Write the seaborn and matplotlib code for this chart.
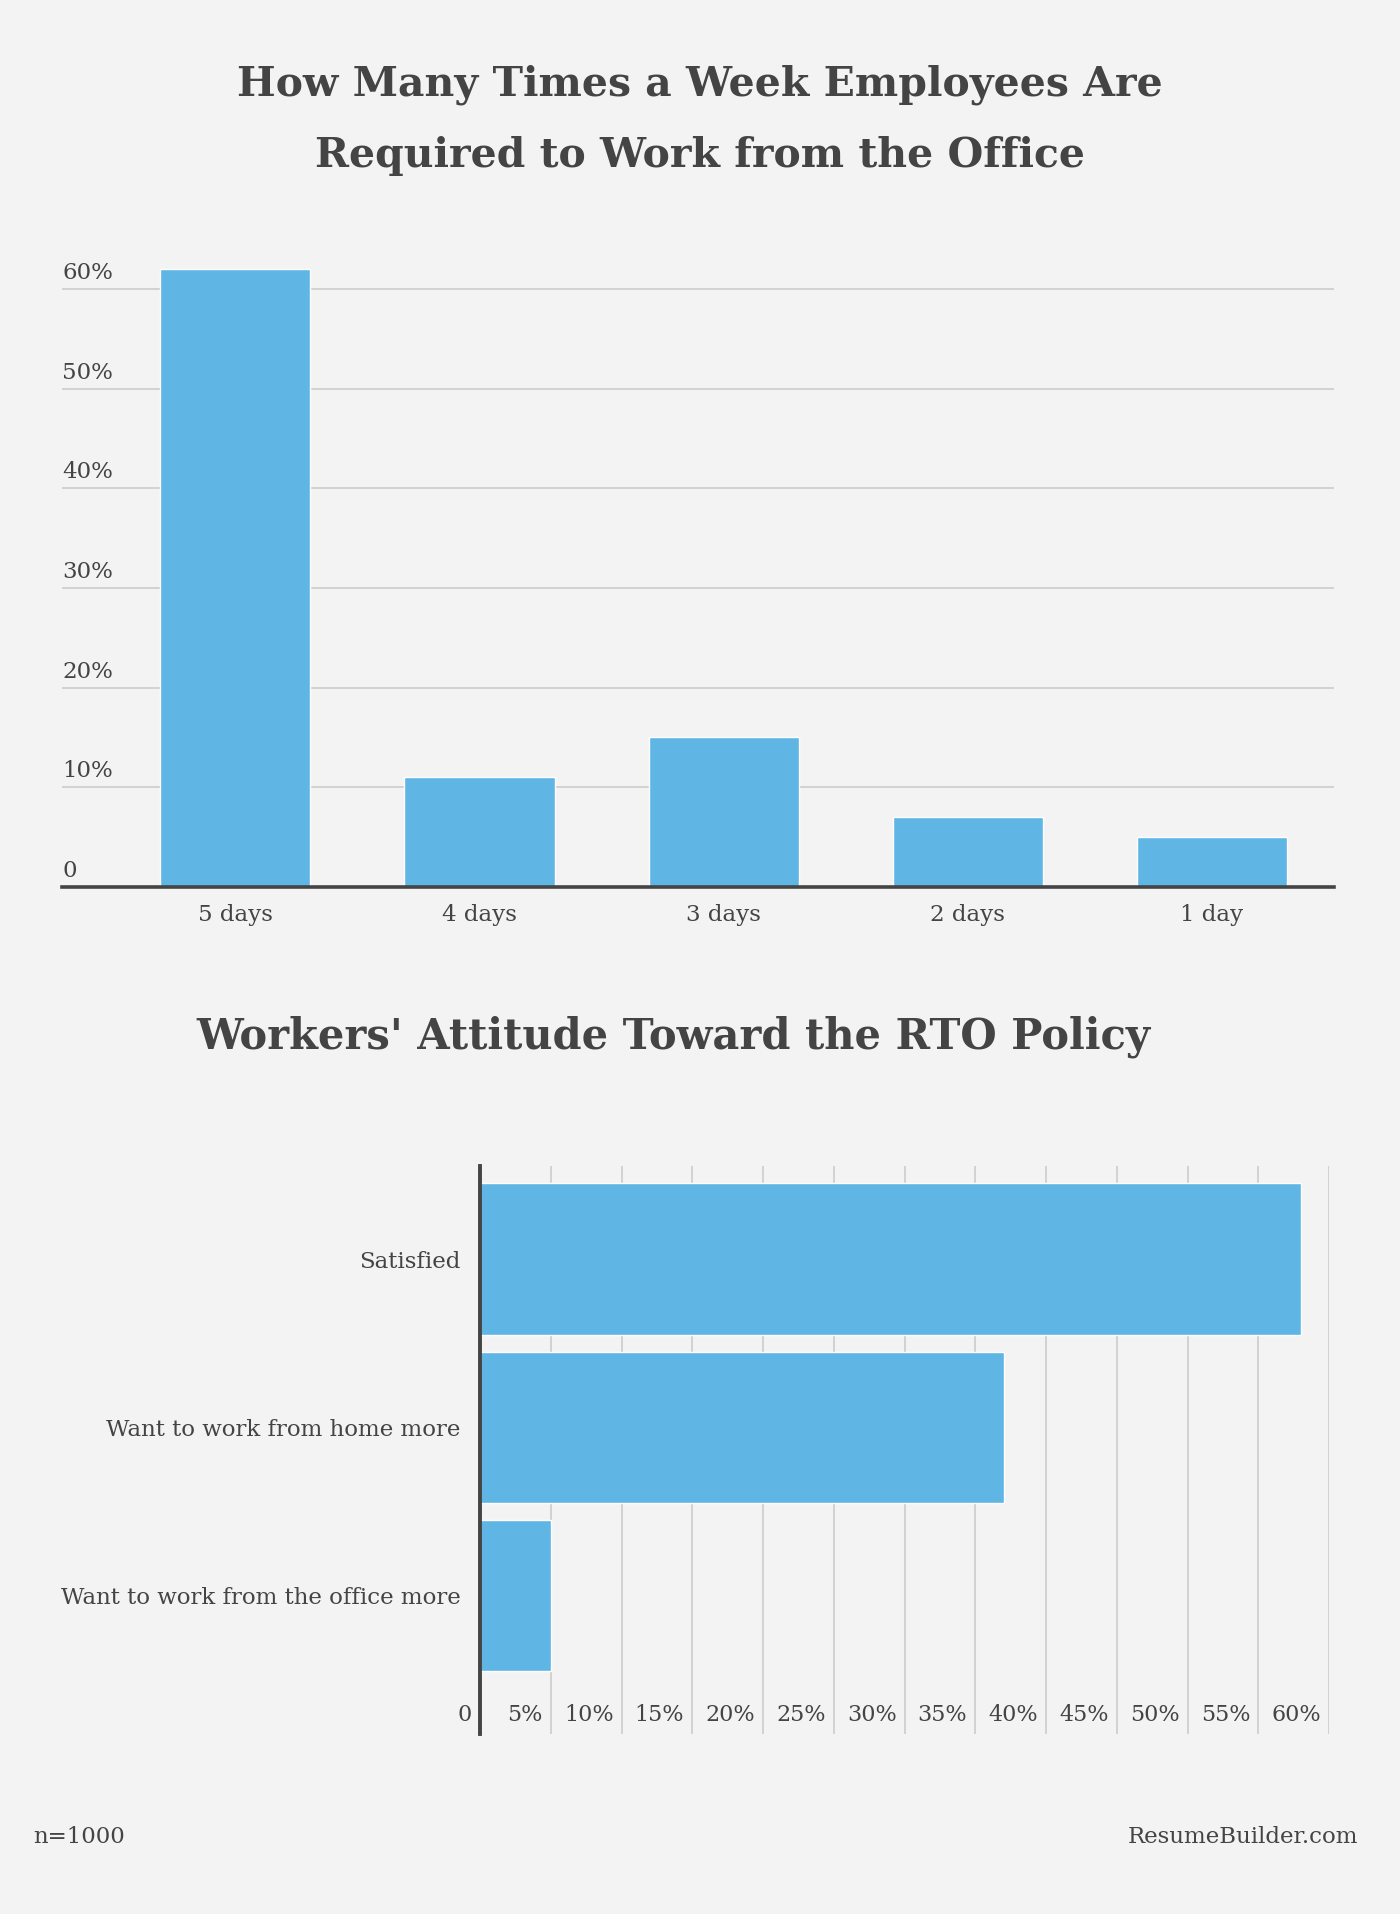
import seaborn as sns
from matplotlib import pyplot as plt
from matplotlib import transforms
import pandas as pd

# data
days = ["5 days", "4 days", "3 days", "2 days", "1 day"]
days_pct = [62, 11, 15, 7, 5]

attitudes = ["Satisfied", "Want to work from home more", "Want to work from the office more"]
attitude_pct = [58, 37, 5]

BG = "#f3f3f3"
BAR = "#5fb6e4"
TXT = "#444444"
GRID = "#cccccc"

sns.set_theme(style="white")
plt.rcParams['font.family'] = ['DejaVu Serif']

fig = plt.figure(figsize=(14, 19.14), dpi=100, facecolor=BG)

# top chart
ax1 = fig.add_axes([0.0443, 0.5366, 0.9086, 0.3333], facecolor=BG)
top_df = pd.DataFrame({"days": days, "pct": days_pct})
sns.barplot(data=top_df, x="days", y="pct", color=BAR, saturation=1,
            width=0.615, ax=ax1, zorder=3)
ax1.set_xlim(-0.71, 4.5)
ax1.set_ylim(0, 64)
ax1.set_yticks([0, 10, 20, 30, 40, 50, 60])
ax1.set_yticklabels(["0", "10%", "20%", "30%", "40%", "50%", "60%"])
ax1.yaxis.grid(True, color=GRID, linewidth=1.2, zorder=0)
ax1.set_axisbelow(True)
for s in ["top", "right", "left"]:
    ax1.spines[s].set_visible(False)
ax1.spines["bottom"].set_color(TXT)
ax1.spines["bottom"].set_linewidth(2.6)
ax1.spines["bottom"].set_zorder(4)
ax1.tick_params(axis="y", length=0, pad=0, labelsize=16.5, labelcolor=TXT)
ax1.tick_params(axis="x", length=0, pad=12, labelsize=16.5, labelcolor=TXT)
up = transforms.ScaledTranslation(0, 5 / 100, fig.dpi_scale_trans)
for lab in ax1.get_yticklabels():
    lab.set_ha("left")
    lab.set_va("bottom")
    lab.set_transform(lab.get_transform() + up)
ax1.set_xlabel("")
ax1.set_ylabel("")

fig.text(0.4997, 0.937, "How Many Times a Week Employees Are\nRequired to Work from the Office",
         ha="center", va="center", fontsize=29.5, fontweight="bold", color=TXT,
         linespacing=2.0)

# bottom chart
ax2 = fig.add_axes([0.3429, 0.0940, 0.6064, 0.2968], facecolor=BG)
bot_df = pd.DataFrame({"attitude": attitudes, "pct": attitude_pct})
sns.barplot(data=bot_df, y="attitude", x="pct", orient="h", color=BAR,
            saturation=1, width=0.9, ax=ax2, zorder=3)
ax2.set_xlim(0, 60)
ax2.set_ylim(2.823, -0.553)
ax2.set_xticks(list(range(0, 65, 5)))
ax2.set_xticklabels(["0"] + [f"{v}%" for v in range(5, 65, 5)])
ax2.xaxis.grid(True, color=GRID, linewidth=1.2, zorder=0)
ax2.set_axisbelow(True)
for s in ["top", "right", "bottom"]:
    ax2.spines[s].set_visible(False)
ax2.spines["left"].set_color(TXT)
ax2.spines["left"].set_linewidth(2.8)
ax2.spines["left"].set_zorder(4)
ax2.tick_params(axis="y", length=0, pad=14, labelsize=16.5, labelcolor=TXT)
ax2.tick_params(axis="x", length=0, pad=-6, labelsize=16, labelcolor=TXT)
left = transforms.ScaledTranslation(-8 / 100, 0, fig.dpi_scale_trans)
for lab in ax2.get_xticklabels():
    lab.set_ha("right")
    lab.set_va("bottom")
    lab.set_transform(lab.get_transform() + left)
ax2.set_xlabel("")
ax2.set_ylabel("")

fig.text(0.4807, 0.4585, "Workers' Attitude Toward the RTO Policy",
         ha="center", va="center", fontsize=30, fontweight="bold", color=TXT)

# footer
fig.text(0.0236, 0.040, "n=1000", ha="left", va="center", fontsize=16.5, color=TXT)
fig.text(0.970, 0.040, "ResumeBuilder.com", ha="right", va="center", fontsize=16.5, color=TXT)

fig.savefig("out.png", dpi=100, facecolor=BG)
